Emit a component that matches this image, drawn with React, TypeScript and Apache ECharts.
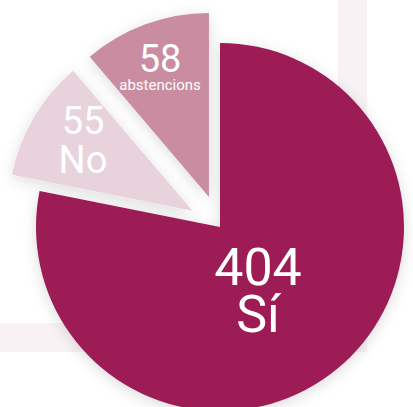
import React, { useEffect, useRef } from "react";
import * as echarts from "echarts";

const categories = ["Sí", "No", "abstencions"];
const values = [404, 55, 58];
const colors = ["#9E1A55", "#E8D3DD", "#C98CA1"];
const exploded = [false, true, true];

const FONT = "Roboto, 'Noto Sans', sans-serif";

export default function App() {
  const ref = useRef<HTMLDivElement>(null);
  useEffect(() => {
    if (!ref.current) return;
    const chart = echarts.init(ref.current, undefined, { renderer: "svg" });
    const cx = 220;
    const cy = 227;
    const explodeDist = 32;
    const labelPos = [
      [258, 291],
      [83, 140],
      [160, 66],
    ];
    const valueSize = [52, 38, 38];
    const nameSize = [52, 38, 15];
    const valueLH = [47, 39, 38];
    const nameLH = [47, 39, 15];
    const total = values.reduce((a, b) => a + b, 0);
    let cum = 0;
    const series = categories.map((_, i) => {
      const mid = (cum + values[i] / 2) / total;
      cum += values[i];
      const ang = ((90 - 360 * mid) * Math.PI) / 180;
      const d = exploded[i] ? explodeDist : 0;
      const center = [cx + Math.cos(ang) * d, cy - Math.sin(ang) * d];
      const data = categories.map((name, j) =>
        j === i
          ? {
              name,
              value: values[j],
              itemStyle: {
                color: colors[j],
                shadowBlur: 14,
                shadowColor: "rgba(0,0,0,0.14)",
                shadowOffsetY: 3,
              },
              label: {
                show: true,
                rich: {
                  v: {
                    fontSize: valueSize[j],
                    lineHeight: valueLH[j],
                    color: "#fff",
                    fontFamily: FONT,
                    align: "center",
                  },
                  n: {
                    fontSize: nameSize[j],
                    lineHeight: nameLH[j],
                    color: "#fff",
                    fontFamily: FONT,
                    align: "center",
                  },
                },
              },
            }
          : {
              name,
              value: values[j],
              itemStyle: { color: "rgba(0,0,0,0)", shadowBlur: 0 },
              label: { show: false },
            }
      );
      return {
        type: "pie",
        z: 2 + i,
        center,
        radius: [0, 184],
        startAngle: 90,
        clockwise: true,
        avoidLabelOverlap: false,
        silent: true,
        emphasis: { disabled: true },
        label: {
          show: true,
          position: "inside",
          formatter: "{v|{c}}\n{n|{b}}",
        },
        labelLine: { show: false },
        labelLayout: (p: any) => ({
          x: labelPos[p.dataIndex][0],
          y: labelPos[p.dataIndex][1],
          align: "center",
          verticalAlign: "middle",
          hideOverlap: false,
        }),
        data,
      };
    });
    chart.setOption({
      animation: false,
      graphic: [
        { type: "rect", z: -10, shape: { x: 338, y: 0, width: 29, height: 352 }, style: { fill: "#F8F2F5" } },
        { type: "rect", z: -10, shape: { x: 0, y: 323, width: 367, height: 29 }, style: { fill: "#F8F2F5" } },
      ],
      series,
    });
    return () => chart.dispose();
  }, []);
  return (
    <div
      ref={ref}
      style={{ position: "fixed", left: 0, top: 0, width: 413, height: 407, background: "#fff" }}
    />
  );
}
